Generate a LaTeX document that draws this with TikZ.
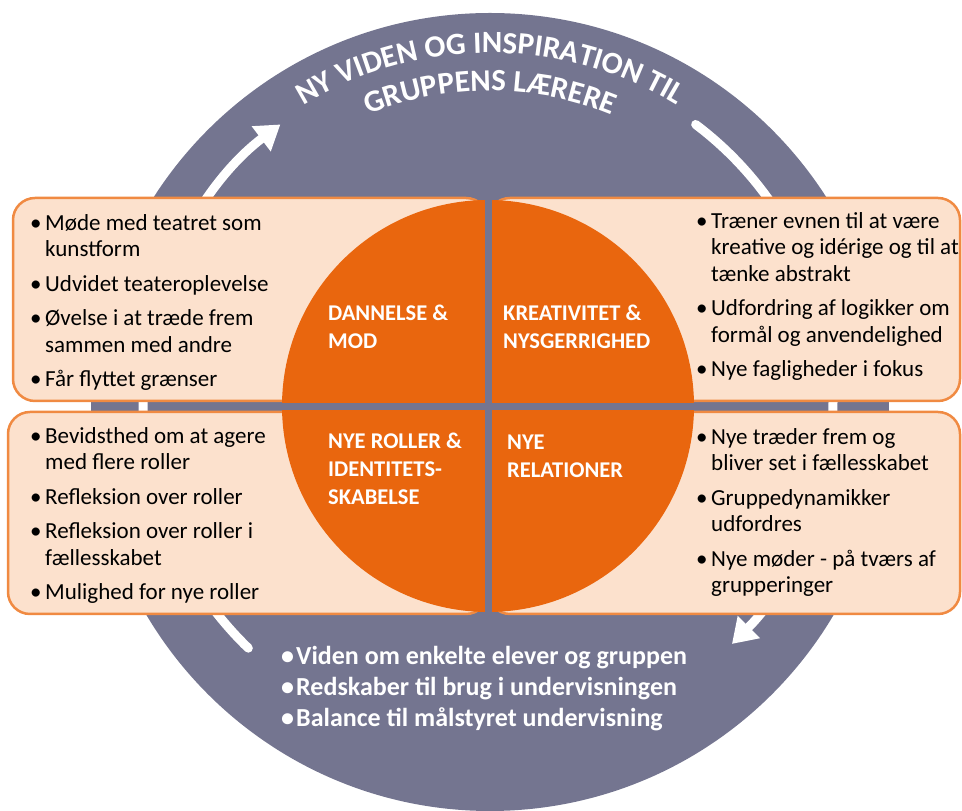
\documentclass[tikz,border=0pt]{standalone}
\usepackage{fontspec}
\setmainfont{Carlito}
\usepackage{xcolor}
\usepackage{tikz}
\usetikzlibrary{arrows.meta,calc,decorations.text}

\definecolor{ringgrey}{HTML}{747590}
\definecolor{coreorange}{HTML}{E9660E}
\definecolor{boxfill}{HTML}{FCE1CD}
\definecolor{boxline}{HTML}{F08A42}

\newcommand{\bul}{\makebox[15pt][l]{\textbullet}}
\newcommand{\ind}{\hspace*{15pt}}

\begin{document}
\begin{tikzpicture}[
        x=1pt, y=1pt,
        box/.style={draw=boxline, line width=2.5pt, fill=boxfill, rounded corners=22pt},
        topic/.style={anchor=base west, align=left, inner sep=0pt, text=white, font=\fontsize{22.5}{28}\selectfont\bfseries},
        bullets/.style={anchor=base west, align=left, inner sep=0pt, font=\fontsize{23}{26.5}\selectfont},
        summary/.style={anchor=base west, align=left, inner sep=0pt, text=white, font=\fontsize{26}{31}\selectfont\bfseries},
        cycle/.style={white, line width=9pt, line cap=round, -{Triangle[width=30pt,length=24pt]}},
        title/.style={decorate, decoration={text along path, text align=center, text color=white, text={|\fontsize{31}{31}\selectfont\bfseries|#1}}}
    ]
        \useasboundingbox (0,0) rectangle (962,811);
        \coordinate (hub) at (490,399);
        \coordinate (core) at (488,405);
        \coordinate (loop) at (488,411);

        % Outer ring
        \fill[ringgrey] (hub) circle[radius=399];

        % Cycle arrows
        \draw[cycle] ($(loop)+(226:345)$) arc[start angle=226, end angle=127, radius=345];
        \draw[cycle] ($(loop)+(53:345)$) arc[start angle=53, end angle=-45, radius=345];

        % Boxes
        \draw[box] (13,410) rectangle (488,613);
        \draw[box] (488,410) rectangle (960,613);
        \draw[box] (8,197) rectangle (488,399);
        \draw[box] (488,197) rectangle (960,399);

        % Core circle and cross
        \fill[coreorange] (core) circle[radius=206];
        \draw[ringgrey, line width=7pt] (488,197) -- (488,613);
        \draw[ringgrey, line width=7pt] (280,404.5) -- (696,404.5);

        % Title
        \path[title={NY VIDEN OG INSPIRATION TIL}] ($(hub)+(150:359)$) arc[start angle=150, end angle=30, radius=359];
        \path[title={GRUPPENS LÆRERE}] ($(hub)+(150:321)$) arc[start angle=150, end angle=30, radius=321];

        % Topics (anchored at last line)
        \node[topic] (dannelse) at (328,462) {DANNELSE \&\\MOD};
        \node[topic] (kreativitet) at (503,462) {KREATIVITET \&\\NYSGERRIGHED};
        \node[topic] (roller) at (328,306) {NYE ROLLER \&\\IDENTITETS-\\SKABELSE};
        \node[topic] (relationer) at (507,333) {NYE\\RELATIONER};

        % Bullet lists (anchored at last line)
        \node[bullets] (dannelselist) at (30,424) {\bul Møde med teatret som\\\ind kunstform\\[8pt]\bul Udvidet teateroplevelse\\[8pt]\bul Øvelse i at træde frem\\\ind sammen med andre\\[8pt]\bul Får flyttet grænser};
        \node[bullets] (kreativitetlist) at (696,434) {\bul Træner evnen til at være\\\ind kreative og idérige og til at\\\ind tænke abstrakt\\[8pt]\bul Udfordring af logikker om\\\ind formål og anvendelighed\\[8pt]\bul Nye fagligheder i fokus};
        \node[bullets] (rollerlist) at (30,211) {\bul Bevidsthed om at agere\\\ind med flere roller\\[8pt]\bul Refleksion over roller\\[8pt]\bul Refleksion over roller i\\\ind fællesskabet\\[8pt]\bul Mulighed for nye roller};
        \node[bullets] (relationerlist) at (696,218) {\bul Nye træder frem og\\\ind bliver set i fællesskabet\\[8pt]\bul Gruppedynamikker\\\ind udfordres\\[8pt]\bul Nye møder - på tværs af\\\ind grupperinger};

        % Summary
        \node[summary] (gain) at (281,84) {\bul Viden om enkelte elever og gruppen\\\bul Redskaber til brug i undervisningen\\\bul Balance til målstyret undervisning};
\end{tikzpicture}
\end{document}
